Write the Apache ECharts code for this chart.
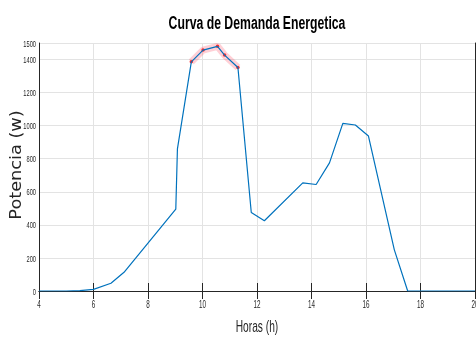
<!DOCTYPE html>
<html>
<head>
<meta charset="utf-8">
<script src="https://cdn.jsdelivr.net/npm/echarts@6/dist/echarts.min.js"></script>
<style>
  html, body { margin: 0; padding: 0; background: #fff; }
  #chart { width: 476px; height: 338px; }
</style>
</head>
<body>
<div id="chart"></div>
<script>
// datos
const horas = [4, 5, 5.5, 6, 6.64, 7.12, 9.02, 9.08, 9.59, 10.02, 10.55, 10.81, 11.3, 11.79, 12.27, 13.68, 14.17, 14.66, 15.15, 15.61, 16.09, 17.04, 17.53, 20];
const potencia = [0, 0, 2, 10, 47, 113, 495, 860, 1386, 1457, 1480, 1427, 1352, 475, 425, 654, 644, 775, 1014, 1004, 937, 249, 0, 0];
// tramo resaltado (pico)
const horasPico = [9.59, 10.02, 10.55, 10.81, 11.3];
const potenciaPico = [1386, 1457, 1480, 1427, 1352];
// etiquetas de los ejes
const ticksX = [4, 6, 8, 10, 12, 14, 16, 18, 20];
const ticksY = [0, 200, 400, 600, 800, 1000, 1200, 1400, 1500];

const ink = '#262626';
const sans = "'Liberation Sans', Arial, sans-serif";

const serie = horas.map((h, i) => [h, potencia[i]]);
const pico = horasPico.map((h, i) => [h, potenciaPico[i]]);

const myChart = echarts.init(document.getElementById('chart'), null, { renderer: 'canvas' });

const option = {
    animation: false,
    grid: {
        left: 39,
        right: 1,
        top: 43,
        bottom: 47,
        containLabel: false,
        outerBoundsMode: 'none'
    },
    xAxis: [
        {
            type: 'value',
            min: 4,
            max: 20,
            interval: 2,
            axisLine: { lineStyle: { color: ink, width: 1 } },
            axisTick: { inside: true, length: 8, lineStyle: { color: ink } },
            axisLabel: { show: false },
            splitLine: { show: true, lineStyle: { color: '#e3e3e3', width: 1 } }
        },
        {
            type: 'value',
            position: 'top',
            min: 4,
            max: 20,
            interval: 2,
            axisLine: { lineStyle: { color: ink, width: 1 } },
            axisTick: { inside: true, length: 8, lineStyle: { color: ink } },
            axisLabel: { show: false },
            splitLine: { show: false }
        }
    ],
    yAxis: [
        {
            type: 'value',
            min: 0,
            max: 1500,
            interval: 200,
            axisLine: { show: true, lineStyle: { color: ink, width: 1 } },
            axisTick: { show: false },
            axisLabel: { show: false },
            splitLine: { lineStyle: { color: '#e3e3e3', width: 1 } }
        },
        {
            type: 'value',
            position: 'right',
            min: 0,
            max: 1500,
            axisLine: { show: true, lineStyle: { color: ink, width: 1 } },
            axisTick: { show: false },
            axisLabel: { show: false },
            splitLine: { show: false }
        }
    ],
    series: [
        {
            type: 'line',
            data: serie,
            symbol: 'none',
            lineStyle: { color: '#0072BD', width: 1.2 },
            z: 3
        },
        {
            type: 'line',
            data: pico,
            symbol: 'circle',
            symbolSize: 3.5,
            itemStyle: { color: '#ff2a2a' },
            lineStyle: { color: 'rgba(255,40,70,0.22)', width: 7 },
            z: 2
        }
    ]
};

myChart.setOption(option);

// textos estrechos (escalados en horizontal), colocados con las escalas del grafico
const textos = [
    {
        type: 'text', x: 257, y: 24, scaleX: 0.68,
        style: { text: 'Curva de Demanda Energetica', font: 'bold 18px ' + sans, fill: '#000', align: 'center', verticalAlign: 'middle' }
    },
    {
        type: 'text', x: 257, y: 327, scaleX: 0.6,
        style: { text: 'Horas (h)', font: '17px ' + sans, fill: ink, align: 'center', verticalAlign: 'middle' }
    },
    {
        type: 'text', x: 17, y: 165, rotation: Math.PI / 2, scaleX: 1.18,
        style: { text: 'Potencia (w)', font: '15px "DejaVu Sans"', fill: ink, align: 'center', verticalAlign: 'middle' }
    }
];
ticksX.forEach(v => {
    const px = myChart.convertToPixel({ xAxisIndex: 0 }, v);
    textos.push({
        type: 'text', x: px, y: 305.5, scaleX: 0.6,
        style: { text: String(v), font: '10.5px ' + sans, fill: ink, align: 'center', verticalAlign: 'middle' }
    });
});
ticksY.forEach(v => {
    const py = myChart.convertToPixel({ yAxisIndex: 0 }, v);
    textos.push({
        type: 'text', x: 36, y: py + 1, scaleX: 0.6,
        style: { text: String(v), font: '9.5px ' + sans, fill: ink, align: 'right', verticalAlign: 'middle' }
    });
});
myChart.setOption({ graphic: textos });
</script>
</body>
</html>
